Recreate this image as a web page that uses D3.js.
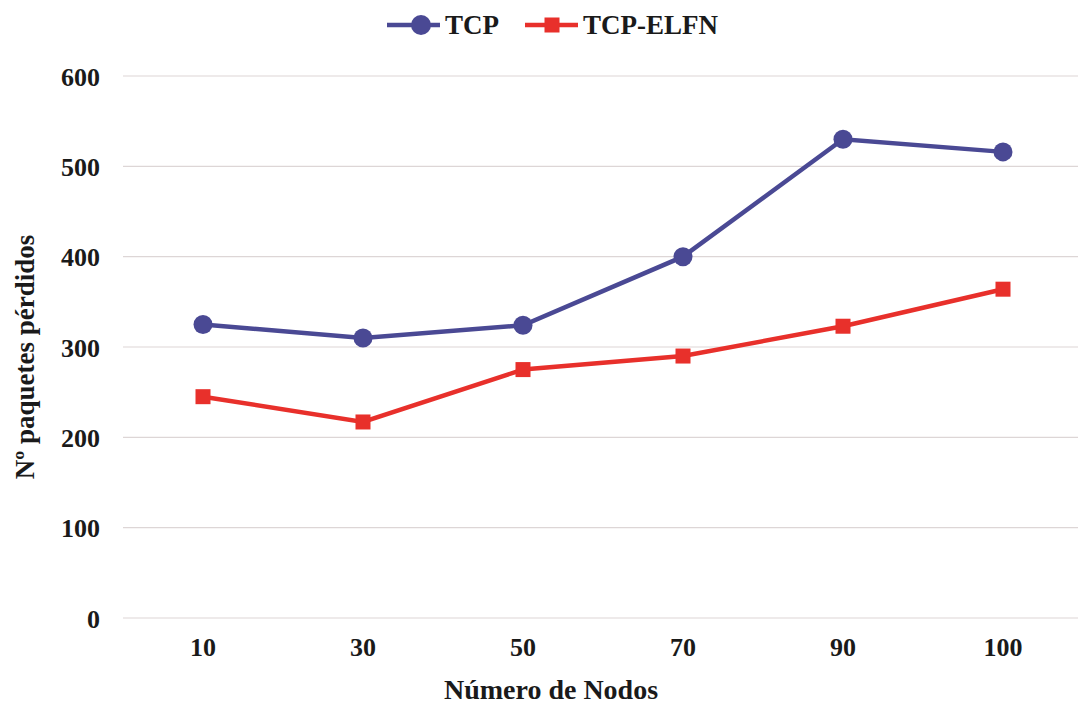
<!DOCTYPE html>
<html>
<head>
<meta charset="utf-8">
<script src="https://cdn.jsdelivr.net/npm/d3@7"></script>
<style>
  html, body { margin: 0; padding: 0; background: #ffffff; }
  svg { display: block; }
  text { font-family: "Liberation Serif", "Times New Roman", serif; font-weight: bold; fill: #1a1a1a; }
</style>
</head>
<body>
<svg id="chart" width="1080" height="704"></svg>
<script>
// Number of nodes (categories) and lost packets per protocol
const nodes = ["10", "30", "50", "70", "90", "100"];
const tcp = [325, 310, 324, 400, 530, 516];
const tcpElfn = [245, 217, 275, 290, 323, 364];
const yTicks = [0, 100, 200, 300, 400, 500, 600];
const seriesNames = ["TCP", "TCP-ELFN"];
const seriesColors = ["#4a4994", "#e8302b"];

const svg = d3.select("#chart");
const plotLeft = 123;

const x = d3.scaleBand()
  .domain(nodes)
  .range([plotLeft, plotLeft + 160 * nodes.length])
  .paddingInner(0).paddingOuter(0);

const y = d3.scaleLinear()
  .domain([0, 600])
  .range([618, 76]);

// horizontal gridlines
svg.append("g")
  .selectAll("line")
  .data(yTicks)
  .join("line")
  .attr("x1", plotLeft)
  .attr("x2", 1078)
  .attr("y1", d => y(d))
  .attr("y2", d => y(d))
  .attr("stroke", "#ddd6d6")
  .attr("stroke-width", 1.2);

function styleTicks(g, dy) {
  g.select(".domain").remove();
  g.selectAll("text")
    .attr("font-size", 26)
    .attr("font-family", "Liberation Serif, serif")
    .attr("font-weight", "bold")
    .attr("fill", "#1a1a1a")
    .attr("dy", dy);
}

// y axis labels
const gy = svg.append("g").attr("transform", "translate(100,0)")
  .call(d3.axisLeft(y).tickValues(yTicks).tickSize(0).tickPadding(0));
styleTicks(gy, "0.35em");

// x axis labels
const gx = svg.append("g").attr("transform", "translate(0,638)")
  .call(d3.axisBottom(x).tickSize(0).tickPadding(0));
styleTicks(gx, "0.71em");

// axis titles
svg.append("text")
  .attr("x", 551).attr("y", 699)
  .attr("text-anchor", "middle")
  .attr("font-size", 28)
  .attr("fill", "#111")
  .text("Número de Nodos");

svg.append("text")
  .attr("transform", "translate(34,357) rotate(-90)")
  .attr("text-anchor", "middle")
  .attr("font-size", 27)
  .attr("fill", "#111")
  .text("Nº paquetes pérdidos");

const cx = d => x(d) + x.bandwidth() / 2;
const line = d3.line().x(d => cx(d.n)).y(d => y(d.v));

const data = [tcp, tcpElfn].map(vals => vals.map((v, j) => ({ n: nodes[j], v })));

// series lines
svg.append("g")
  .selectAll("path")
  .data(data)
  .join("path")
  .attr("d", line)
  .attr("fill", "none")
  .attr("stroke", (d, i) => seriesColors[i])
  .attr("stroke-width", 4.5);

// TCP circle markers
svg.append("g")
  .selectAll("circle")
  .data(data[0])
  .join("circle")
  .attr("cx", d => cx(d.n))
  .attr("cy", d => y(d.v))
  .attr("r", 9.5)
  .attr("fill", seriesColors[0]);

// TCP-ELFN square markers
const sq = 15;
svg.append("g")
  .selectAll("rect")
  .data(data[1])
  .join("rect")
  .attr("x", d => cx(d.n) - sq / 2)
  .attr("y", d => y(d.v) - sq / 2)
  .attr("width", sq)
  .attr("height", sq)
  .attr("fill", seriesColors[1]);

// legend
const legend = svg.append("g");
const legendItems = [
  { name: seriesNames[0], x0: 387, color: seriesColors[0], shape: "circle" },
  { name: seriesNames[1], x0: 525, color: seriesColors[1], shape: "square" }
];
const ly = 25;
legendItems.forEach(item => {
  legend.append("line")
    .attr("x1", item.x0).attr("x2", item.x0 + 53)
    .attr("y1", ly).attr("y2", ly)
    .attr("stroke", item.color).attr("stroke-width", 4.5);
  if (item.shape === "circle") {
    legend.append("circle").attr("cx", item.x0 + 34).attr("cy", ly).attr("r", 10).attr("fill", item.color);
  } else {
    legend.append("rect").attr("x", item.x0 + 27 - 7.5).attr("y", ly - 7.5).attr("width", 15).attr("height", 15).attr("fill", item.color);
  }
  legend.append("text")
    .attr("x", item.x0 + 58).attr("y", ly)
    .attr("dy", "0.35em")
    .attr("font-size", 27)
    .attr("fill", "#111")
    .text(item.name);
});
</script>
</body>
</html>
